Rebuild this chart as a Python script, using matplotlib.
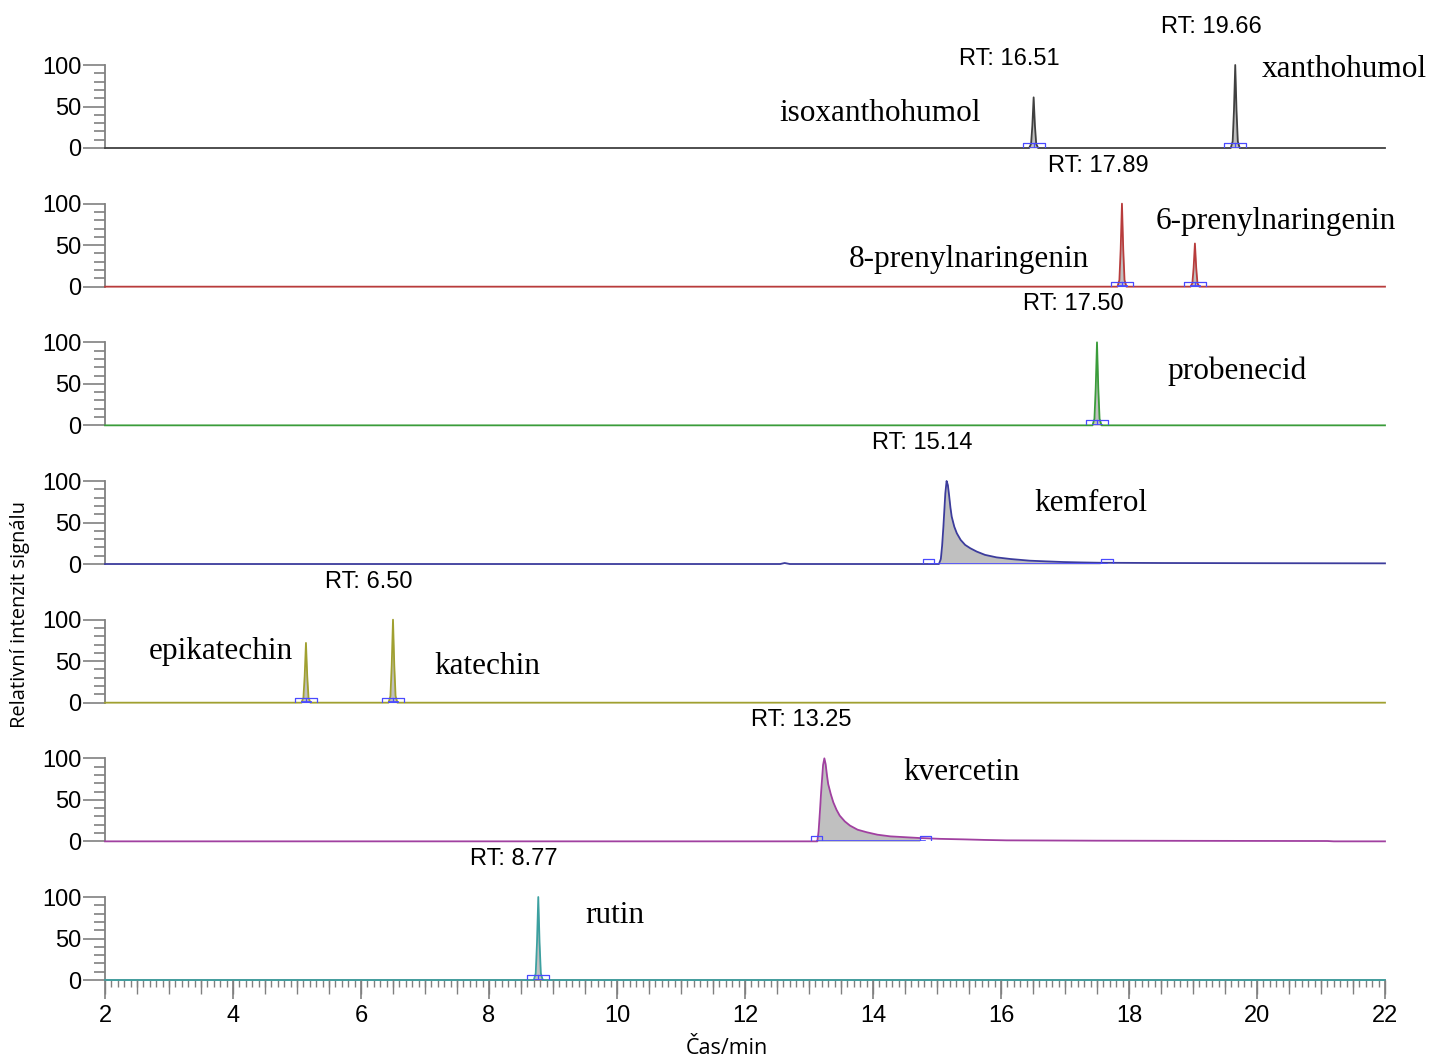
import matplotlib.pyplot as plt
from matplotlib.ticker import MultipleLocator, FixedLocator, NullFormatter
import numpy as np

plt.rcParams['font.family'] = ['Liberation Sans', 'DejaVu Sans']

# chromatogram traces: time (min) and relative intensity (%)
hop_t = [2.0, 16.44, 16.47, 16.49, 16.51, 16.53, 16.55, 16.58,
         19.59, 19.62, 19.64, 19.66, 19.68, 19.70, 19.73, 22.0]
hop_i = [0, 0, 5, 27, 61, 27, 5, 0,
         0, 8, 45, 100, 45, 8, 0, 0]

prenyl_t = [2.0, 17.82, 17.85, 17.87, 17.89, 17.91, 17.93, 17.96,
            18.96, 18.99, 19.01, 19.03, 19.05, 19.07, 19.10, 22.0]
prenyl_i = [0, 0, 8, 45, 100, 45, 8, 0,
            0, 4, 23, 52, 23, 4, 0, 0]

probenecid_t = [2.0, 17.43, 17.46, 17.48, 17.50, 17.52, 17.54, 17.57, 22.0]
probenecid_i = [0, 0, 8, 45, 100, 45, 8, 0, 0]

kemferol_t = [2.0, 12.55, 12.62, 12.70, 15.03, 15.06, 15.08, 15.10, 15.13, 15.15,
              15.17, 15.19, 15.21, 15.23, 15.27, 15.31, 15.37, 15.44, 15.52, 15.62,
              15.75, 15.93, 16.15, 16.45, 16.70, 16.97, 17.25, 17.55, 18.5,
              20.0, 22.0]
kemferol_i = [0, 0, 1.2, 0, 0, 6, 22, 45, 85, 100,
              95, 82, 68, 57, 45, 37, 29, 23, 19, 15,
              11, 8, 6, 4, 3.2, 2.4, 1.9, 1.5, 1.2,
              1.0, 0.8]

katechin_t = [2.0, 5.07, 5.10, 5.12, 5.14, 5.16, 5.18, 5.21,
              6.43, 6.46, 6.48, 6.50, 6.52, 6.54, 6.57, 22.0]
katechin_i = [0, 0, 6, 32, 72, 32, 6, 0,
              0, 8, 45, 100, 45, 8, 0, 0]

kvercetin_t = [2.0, 13.13, 13.15, 13.17, 13.19, 13.22, 13.24, 13.26, 13.28, 13.30,
               13.34, 13.38, 13.43, 13.48, 13.56, 13.64, 13.76, 13.90, 14.07, 14.27,
               14.50, 14.73, 15.05, 15.41, 15.75, 16.09, 17.5, 19.0, 21.1,
               21.2, 22.0]
kvercetin_i = [0, 0, 12, 35, 60, 92, 100, 93, 80, 69,
               57, 47, 38, 31, 24, 19, 14, 11, 8, 6,
               5, 4, 3, 2.4, 1.7, 1.2, 0.8, 0.6, 0.4,
               0, 0]

rutin_t = [2.0, 8.70, 8.73, 8.75, 8.77, 8.79, 8.81, 8.84, 22.0]
rutin_i = [0, 0, 8, 45, 100, 45, 8, 0, 0]

# labelled peaks: retention time, apex height
hop_rt = [16.51, 19.66]
hop_top = [61, 100]
prenyl_rt = [17.89]
prenyl_top = [100]
probenecid_rt = [17.50]
probenecid_top = [100]
kemferol_rt = [15.14]
kemferol_top = [100]
katechin_rt = [6.50]
katechin_top = [100]
kvercetin_rt = [13.25]
kvercetin_top = [100]
rutin_rt = [8.77]
rutin_top = [100]

# integration windows (start, end) of every peak
hop_win = [(16.34, 16.68), (19.49, 19.83)]
prenyl_win = [(17.72, 18.06), (18.86, 19.20)]
probenecid_win = [(17.33, 17.67)]
kemferol_win = [(14.87, 17.66)]
katechin_win = [(4.97, 5.31), (6.33, 6.67)]
kvercetin_win = [(13.12, 14.82)]
rutin_win = [(8.60, 8.94)]

# compound names: text, x, y
hop_names = [('isoxanthohumol', 14.11, 41), ('xanthohumol', 21.37, 94)]
prenyl_names = [('8-prenylnaringenin', 15.50, 33), ('6-prenylnaringenin', 20.30, 79)]
probenecid_names = [('probenecid', 19.69, 65)]
kemferol_names = [('kemferol', 17.41, 73)]
katechin_names = [('epikatechin', 3.81, 62), ('katechin', 7.97, 43)]
kvercetin_names = [('kvercetin', 15.39, 83)]
rutin_names = [('rutin', 9.97, 78)]

panels = [
    (hop_t, hop_i, '#404040', hop_rt, hop_top, hop_win, hop_names),
    (prenyl_t, prenyl_i, '#b83c3c', prenyl_rt, prenyl_top, prenyl_win, prenyl_names),
    (probenecid_t, probenecid_i, '#3a9c3a', probenecid_rt, probenecid_top,
     probenecid_win, probenecid_names),
    (kemferol_t, kemferol_i, '#3c3c9c', kemferol_rt, kemferol_top,
     kemferol_win, kemferol_names),
    (katechin_t, katechin_i, '#a0a030', katechin_rt, katechin_top,
     katechin_win, katechin_names),
    (kvercetin_t, kvercetin_i, '#a040a0', kvercetin_rt, kvercetin_top,
     kvercetin_win, kvercetin_names),
    (rutin_t, rutin_i, '#3ca0a0', rutin_rt, rutin_top, rutin_win, rutin_names),
]

W, H = 1432, 1059
fig = plt.figure(figsize=(W / 100, H / 100), dpi=100)
axis_grey = '#808080'
marker_blue = '#4a4aff'

for k, (t, y, col, rts, tops, wins, names) in enumerate(panels):
    base = 148 + k * 138.67
    pos = [105 / W, 1 - base / H, 1280 / W, 83 / H]
    ax = fig.add_axes(pos)
    ax.set_xlim(2, 22)
    ax.set_ylim(0, 100)
    ax.patch.set_alpha(0)

    t = np.array(t)
    y = np.array(y)
    for s, e in wins:
        m = (t >= s) & (t <= e)
        ax.fill_between(t[m], y[m], color='#c0c0c0', lw=0, clip_on=False)
    ax.plot(t, y, color=col, lw=1.3, clip_on=False, zorder=3)

    # peak start/end markers
    for s, e in wins:
        if e - s < 0.5:
            mid = (s + e) / 2
            ax.plot([s, s, e, e], [0, 6, 6, 0], color=marker_blue, lw=0.9, zorder=4)
            ax.plot([mid, mid], [0, 6], color=marker_blue, lw=0.9, zorder=4)
            ax.plot([mid - 0.06, mid + 0.06], [0.5, 0.5], color=marker_blue, lw=2, zorder=4)
        else:
            for c in (s, e):
                ax.plot([c - 0.09, c - 0.09, c + 0.09, c + 0.09], [0, 6, 6, 0],
                        color=marker_blue, lw=0.9, zorder=4)
            ax.plot([s, e], [0.6, 0.6], color=marker_blue, lw=1.2, zorder=4)

    for rt, top in zip(rts, tops):
        ax.annotate(f'RT: {rt:.2f}', (rt, top), xytext=(-24, 38),
                    textcoords='offset pixels', ha='center', va='center',
                    fontsize=17, annotation_clip=False)

    for name, nx, ny in names:
        ax.text(nx, ny, name, ha='center', va='center', fontsize=22.5,
                family=['Liberation Serif', 'DejaVu Serif'], clip_on=False)

    for side in ('top', 'right', 'bottom'):
        ax.spines[side].set_visible(False)
    ax.spines['left'].set_color(axis_grey)
    ax.spines['left'].set_linewidth(1.3)
    ax.yaxis.set_major_locator(FixedLocator([0, 50, 100]))
    ax.yaxis.set_minor_locator(MultipleLocator(10))
    ax.tick_params(axis='y', which='major', length=16, width=1.2, color=axis_grey,
                   labelsize=17, pad=1)
    ax.tick_params(axis='y', which='minor', length=8, width=1.2, color=axis_grey)

    if k < len(panels) - 1:
        ax.set_xticks([])
    else:
        ax.spines['bottom'].set_visible(True)
        ax.spines['bottom'].set_color(axis_grey)
        ax.spines['bottom'].set_linewidth(1.2)
        ax.xaxis.set_major_locator(MultipleLocator(2))
        ax.xaxis.set_minor_locator(MultipleLocator(0.1))
        ax.tick_params(axis='x', which='major', length=14, width=1.2, color=axis_grey,
                       labelsize=17, pad=4)
        ax.tick_params(axis='x', which='minor', length=5, width=1.0, color=axis_grey)
        # half-minute ticks on an overlaid axis
        ax_mid = fig.add_axes(pos, frameon=False)
        ax_mid.set_xlim(2, 22)
        ax_mid.set_yticks([])
        ax_mid.xaxis.set_major_locator(MultipleLocator(0.5))
        ax_mid.xaxis.set_major_formatter(NullFormatter())
        ax_mid.tick_params(axis='x', length=10, width=1.0, color=axis_grey)

fig.text(727 / W, 1 - 1049 / H, 'Čas/min', ha='center', va='center', fontsize=15.5,
         family=['Open Sans', 'DejaVu Sans'])
fig.text(20 / W, 1 - 614 / H, 'Relativní intenzit signálu', ha='center', va='center',
         rotation=90, fontsize=14.5, family=['Open Sans', 'DejaVu Sans'])

fig.savefig('out.png', dpi=100)
